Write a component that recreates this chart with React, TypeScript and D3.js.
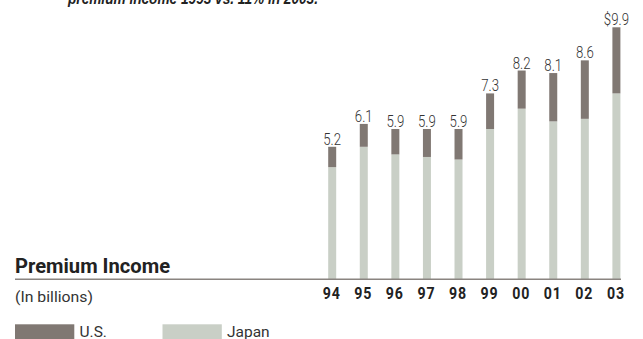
import React from "react";
import * as d3 from "d3";

// Premium income by year, in billions of dollars
const years = ["94", "95", "96", "97", "98", "99", "00", "01", "02", "03"];
const japan = [4.4, 5.2, 4.9, 4.8, 4.7, 5.9, 6.7, 6.2, 6.3, 7.3];
const us = [0.8, 0.9, 1.0, 1.1, 1.2, 1.4, 1.5, 1.9, 2.3, 2.6];
const seriesNames = ["U.S.", "Japan"];

const W = 643;
const H = 339;
const US_COLOR = "#807873";
const JAPAN_COLOR = "#c9cfc6";
const FONT = "Roboto, 'Liberation Sans', Arial, sans-serif";

// Condensed-looking text: a regular face squeezed horizontally around its anchor.
function Narrow({
  x,
  y,
  sx = 0.8,
  children,
  ...rest
}: {
  x: number;
  y: number;
  sx?: number;
  children: React.ReactNode;
  [k: string]: any;
}) {
  return (
    <text transform={`translate(${x},${y}) scale(${sx},1)`} fontFamily={FONT} {...rest}>
      {children}
    </text>
  );
}

export default function App() {
  const x = d3.scalePoint<string>().domain(years).range([332.2, 616.4]);
  const y = d3.scaleLinear().domain([0, 9.9]).range([279, 27.3]);
  const barW = 8;

  const rows = years.map((yr, i) => ({ yr, japan: japan[i], us: us[i] }));
  const stack = d3.stack<any>().keys(["japan", "us"])(rows);
  const totals = years.map((_, i) => japan[i] + us[i]);

  return (
    <svg
      width={W}
      height={H}
      style={{ position: "absolute", left: 0, top: 0, background: "#fff" }}
    >
      <text
        x={68}
        y={4}
        fontFamily="'Liberation Sans', Arial, sans-serif"
        fontWeight="bold"
        fontStyle="italic"
        fontSize={17}
        fill="#222"
        textLength={250}
        lengthAdjust="spacingAndGlyphs"
      >
        premium income 1993 vs. 11% in 2003.
      </text>

      {stack.map((layer) => (
        <g key={layer.key} fill={layer.key === "japan" ? JAPAN_COLOR : US_COLOR}>
          {layer.map((d, i) => (
            <rect
              key={years[i]}
              x={(x(years[i]) as number) - barW / 2}
              y={y(d[1])}
              width={barW}
              height={y(d[0]) - y(d[1])}
            />
          ))}
        </g>
      ))}

      {totals.map((t, i) => (
        <Narrow
          key={years[i]}
          x={x(years[i]) as number}
          y={y(t) - 2}
          sx={0.8}
          textAnchor="middle"
          fontSize={16.5}
          fontWeight={300}
          fill="#333"
        >
          {(i === years.length - 1 ? "$" : "") + d3.format(".1f")(t)}
        </Narrow>
      ))}

      <line x1={15} x2={621} y1={279.3} y2={279.3} stroke="#8a8480" strokeWidth={1.6} />

      {years.map((yr) => (
        <Narrow
          key={yr}
          x={(x(yr) as number) - 0.5}
          y={299.3}
          sx={0.86}
          textAnchor="middle"
          fontWeight="bold"
          fontSize={16.5}
          fill="#222"
          letterSpacing={1}
        >
          {yr}
        </Narrow>
      ))}

      <Narrow x={15} y={272.5} sx={0.96} fontWeight="bold" fontSize={21} fill="#222">
        Premium Income
      </Narrow>
      <Narrow x={15} y={302} sx={1.02} fontSize={15.5} fill="#333">
        (In billions)
      </Narrow>

      {seriesNames.map((name, i) => (
        <g key={name} transform={`translate(${15 + i * 147.5},0)`}>
          <rect x={0} y={324.3} width={59.3} height={16} fill={i === 0 ? US_COLOR : JAPAN_COLOR} />
          <Narrow x={64.5} y={337.2} sx={1.0} fontSize={15.5} fill="#333">
            {name}
          </Narrow>
        </g>
      ))}
    </svg>
  );
}
